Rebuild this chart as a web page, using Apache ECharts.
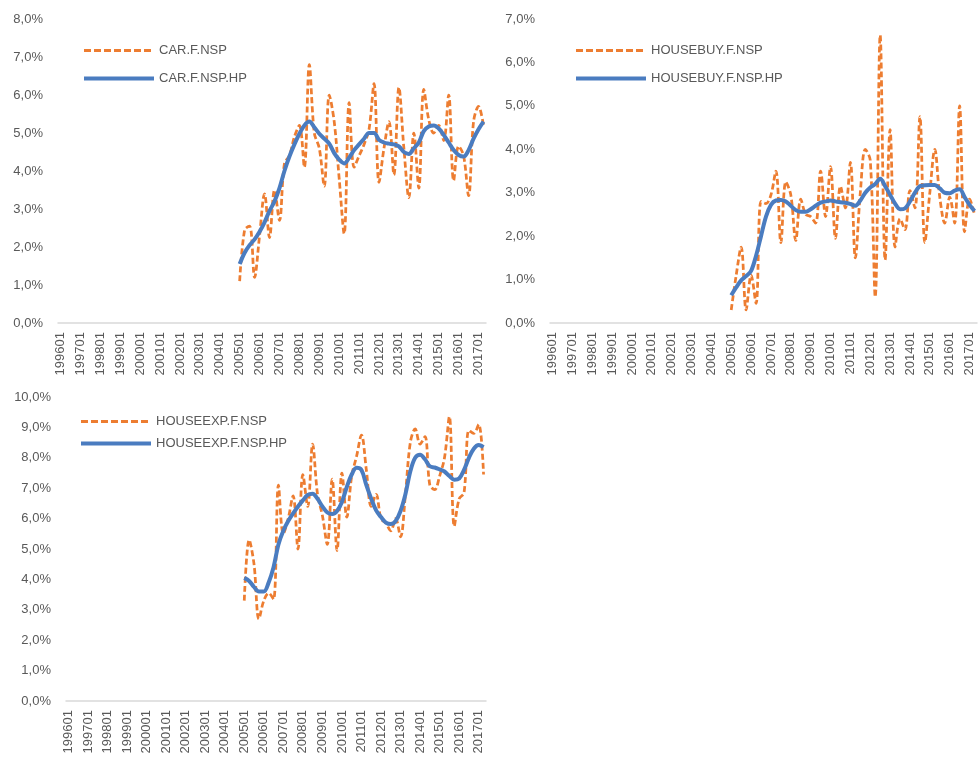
<!DOCTYPE html>
<html>
<head>
<meta charset="utf-8">
<script src="https://cdn.jsdelivr.net/npm/echarts@6/dist/echarts.min.js"></script>
<style>
  html, body { margin: 0; padding: 0; background: #fff; }
  #chart { width: 980px; height: 760px; }
</style>
</head>
<body>
<div id="chart"></div>
<script>
// Quarterly categories 1996Q1..2017Q2, every 4th label shown
const categories = [
  '199601','199602','199603','199604','199701','199702','199703','199704',
  '199801','199802','199803','199804','199901','199902','199903','199904',
  '200001','200002','200003','200004','200101','200102','200103','200104',
  '200201','200202','200203','200204','200301','200302','200303','200304',
  '200401','200402','200403','200404','200501','200502','200503','200504',
  '200601','200602','200603','200604','200701','200702','200703','200704',
  '200801','200802','200803','200804','200901','200902','200903','200904',
  '201001','201002','201003','201004','201101','201102','201103','201104',
  '201201','201202','201203','201204','201301','201302','201303','201304',
  '201401','201402','201403','201404','201501','201502','201503','201504',
  '201601','201602','201603','201604','201701','201702'
];
const seriesStart = '200501';

// values in %, from 200501 on
const carNsp = [1.1, 2.45, 2.55, 1.2, 2.3, 3.4, 2.25, 3.5, 2.7, 4.2,
  4.4, 4.9, 5.2, 4.1, 6.8, 5.0, 4.6, 3.6, 6.0, 5.3,
  3.8, 2.35, 5.8, 4.1, 4.4, 4.7, 5.1, 6.3, 3.7, 4.6,
  5.3, 3.9, 6.2, 4.6, 3.3, 5.0, 3.55, 6.15, 5.35, 5.0,
  5.2, 4.8, 6.0, 3.75, 4.65, 4.4, 3.35, 5.3, 5.7, 5.2];
const carHp = [1.55, 1.85, 2.05, 2.2, 2.4, 2.65, 2.95, 3.2, 3.55, 4.0,
  4.38, 4.7, 4.98, 5.2, 5.3, 5.15, 4.98, 4.85, 4.72, 4.47,
  4.3, 4.2, 4.35, 4.55, 4.7, 4.85, 5.0, 5.0, 4.82, 4.75,
  4.72, 4.7, 4.65, 4.5, 4.45, 4.6, 4.75, 5.05, 5.17, 5.2,
  5.12, 4.95, 4.75, 4.55, 4.42, 4.38, 4.55, 4.85, 5.1, 5.3];

const houseBuyNsp = [0.3, 1.1, 1.75, 0.3, 1.1, 0.45, 2.8, 2.75, 2.95, 3.5,
  1.85, 3.25, 2.95, 1.9, 2.85, 2.5, 2.45, 2.3, 3.5, 2.45,
  3.6, 1.95, 3.15, 2.65, 3.7, 1.5, 3.0, 4.0, 3.75, 0.6,
  6.63, 1.45, 4.45, 1.75, 2.4, 2.15, 3.05, 2.65, 4.75, 1.85,
  3.0, 4.0, 2.9, 2.3, 2.9, 2.3, 5.0, 2.1, 2.85, 2.5];
const houseBuyHp = [0.64, 0.82, 0.98, 1.08, 1.2, 1.55, 2.0, 2.45, 2.72, 2.82,
  2.83, 2.8, 2.7, 2.6, 2.56, 2.56, 2.62, 2.7, 2.77, 2.8,
  2.82, 2.8, 2.78, 2.77, 2.74, 2.7, 2.82, 3.0, 3.12, 3.2,
  3.32, 3.15, 2.95, 2.75, 2.62, 2.64, 2.8, 3.0, 3.15, 3.17,
  3.18, 3.18, 3.1, 3.0, 2.99, 3.05, 3.08, 2.9, 2.72, 2.58];

const houseExpNsp = [3.3, 5.3, 4.5, 2.7, 3.3, 3.55, 3.35, 7.1, 5.5, 6.0,
  6.75, 5.0, 7.45, 6.4, 8.45, 6.8, 6.1, 5.15, 7.3, 4.95,
  7.5, 6.05, 7.4, 8.05, 8.75, 7.6, 6.4, 6.8, 6.0, 5.85,
  5.6, 6.0, 5.4, 6.8, 8.5, 8.95, 8.45, 8.7, 7.1, 6.95,
  7.4, 8.0, 9.35, 5.75, 6.65, 6.85, 8.9, 8.8, 9.1, 7.45];
const houseExpHp = [4.05, 3.95, 3.75, 3.6, 3.6, 3.9, 4.4, 5.15, 5.6, 5.92,
  6.17, 6.4, 6.6, 6.78, 6.82, 6.65, 6.4, 6.2, 6.15, 6.25,
  6.55, 7.04, 7.45, 7.67, 7.6, 7.1, 6.65, 6.27, 6.05, 5.87,
  5.82, 5.92, 6.25, 6.8, 7.55, 8.0, 8.1, 7.95, 7.72, 7.68,
  7.62, 7.55, 7.4, 7.28, 7.32, 7.6, 8.0, 8.3, 8.42, 8.35];

const ORANGE = '#ed7d31';
const BLUE = '#4a7cc0';
const TEXT = '#595959';
const FONT = '"Liberation Sans", Arial, sans-serif';
const NSP_LINE = { color: ORANGE, width: 2.75, type: [6, 3] };
const HP_LINE = { color: BLUE, width: 4 };

const chart = echarts.init(document.getElementById('chart'), null, { renderer: 'canvas' });

// pad the pre-2005 quarters with nulls so points sit on their category
const offset = categories.indexOf(seriesStart);
function pad(vals) {
  return new Array(offset).fill(null).concat(vals);
}

const panels = [
  { grid: { left: 58, right: 494, top: 19, bottom: 437 }, max: 8,
    legend: { left: 82, top: 44, gap: 15 }, names: ['CAR.F.NSP', 'CAR.F.NSP.HP'], nsp: carNsp, hp: carHp },
  { grid: { left: 550, right: 3, top: 19, bottom: 437 }, max: 7,
    legend: { left: 574, top: 44, gap: 15 }, names: ['HOUSEBUY.F.NSP', 'HOUSEBUY.F.NSP.HP'], nsp: houseBuyNsp, hp: houseBuyHp },
  { grid: { left: 66, right: 494, top: 397, bottom: 59 }, max: 10,
    legend: { left: 79, top: 415, gap: 9 }, names: ['HOUSEEXP.F.NSP', 'HOUSEEXP.F.NSP.HP'], nsp: houseExpNsp, hp: houseExpHp },
];

const option = {
  animation: false,
  backgroundColor: '#fff',
  textStyle: { fontFamily: FONT },
  grid: panels.map((p) => Object.assign({ containLabel: false }, p.grid)),
  legend: panels.map((p) => ({
    data: [
      { name: p.names[0], lineStyle: { width: 3, type: [7, 3] } },
      { name: p.names[1], lineStyle: { width: 4 } },
    ],
    orient: 'vertical',
    left: p.legend.left,
    top: p.legend.top,
    padding: 0,
    itemWidth: 70,
    itemHeight: 14,
    itemGap: p.legend.gap,
    itemStyle: { opacity: 0 },   // hide the circle, keep the line sample
    textStyle: { color: TEXT, fontSize: 13, fontFamily: FONT },
  })),
  xAxis: panels.map((p, i) => ({
    type: 'category',
    gridIndex: i,
    data: categories,
    boundaryGap: true,
    axisLine: { lineStyle: { color: '#d9d9d9', width: 1.5 } },
    axisTick: { show: false },
    axisLabel: { interval: 3, rotate: 90, margin: 9, color: TEXT, fontSize: 13, fontFamily: FONT },
    splitLine: { show: false },
  })),
  yAxis: panels.map((p, i) => ({
    type: 'value',
    gridIndex: i,
    min: 0,
    max: p.max,
    interval: 1,
    axisLine: { show: false },
    axisTick: { show: false },
    splitLine: { show: false },
    axisLabel: {
      margin: 15,
      color: TEXT,
      fontSize: 13,
      fontFamily: FONT,
      formatter: (v) => v.toFixed(1).replace('.', ',') + '%',
    },
  })),
  series: [],
};

panels.forEach((p, i) => {
  option.series.push({
    name: p.names[0], type: 'line', xAxisIndex: i, yAxisIndex: i,
    data: pad(p.nsp), symbol: 'none', smooth: 0.35,
    itemStyle: { color: ORANGE },
    lineStyle: NSP_LINE,
  });
  option.series.push({
    name: p.names[1], type: 'line', xAxisIndex: i, yAxisIndex: i,
    data: pad(p.hp), symbol: 'none', smooth: 0.35,
    itemStyle: { color: BLUE },
    lineStyle: HP_LINE,
  });
});

chart.setOption(option);
</script>
</body>
</html>
